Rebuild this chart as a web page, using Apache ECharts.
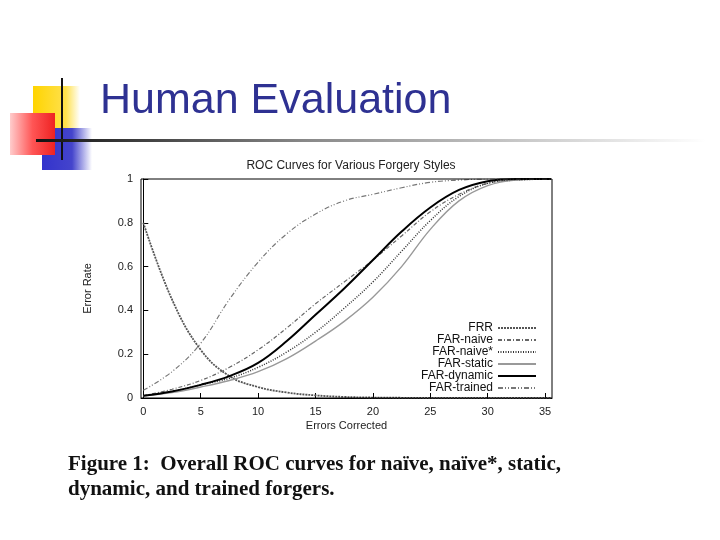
<!DOCTYPE html><html><head><meta charset="utf-8">
<script src="https://cdn.jsdelivr.net/npm/echarts@6/dist/echarts.min.js"></script>
<style>html,body{margin:0;background:#fff}#c{width:720px;height:540px}</style></head><body><div id="c"></div>
<script>
const xs = [0,2.5,5,7.5,10,12.5,15,17.5,20,22.5,25,27.5,30,32.5,35.5];
const frr      = [0.80,0.45,0.22,0.10,0.05,0.025,0.012,0.005,0.002,0.001,0,0,0,0,0];
const naive    = [0.01,0.04,0.08,0.14,0.22,0.32,0.43,0.53,0.63,0.74,0.85,0.93,0.98,0.995,1];
const naiveS   = [0.01,0.03,0.06,0.09,0.14,0.21,0.30,0.41,0.53,0.67,0.81,0.92,0.98,0.995,1];
const stat     = [0.01,0.025,0.05,0.08,0.12,0.18,0.26,0.35,0.46,0.60,0.77,0.90,0.97,0.995,1];
const dynamic  = [0.01,0.03,0.06,0.10,0.16,0.26,0.38,0.50,0.63,0.76,0.87,0.95,0.99,1,1];
const trained  = [0.035,0.12,0.25,0.45,0.62,0.75,0.84,0.90,0.93,0.96,0.985,0.995,1,1,1];
const names = ['FRR','FAR-naive','FAR-naive*','FAR-static','FAR-dynamic','FAR-trained'];
const vals = [frr,naive,naiveS,stat,dynamic,trained];
const styles = [
 {color:'#555',width:1.8,type:[2,1]},
 {color:'#666',width:1.2,type:[4,2,1,2]},
 {color:'#333',width:1.5,type:[1,1.5]},
 {color:'#999',width:1.4,type:'solid'},
 {color:'#000',width:2,type:'solid'},
 {color:'#777',width:1.2,type:[5,2,1,2,1,2]}
];
const chart = echarts.init(document.getElementById('c'));
chart.setOption({
 animation:false,
 title:{text:'ROC Curves for Various Forgery Styles',left:346,top:155,textAlign:'center',textStyle:{fontSize:12,fontWeight:'normal',color:'#222',fontFamily:'Liberation Sans'}},
 grid:{left:141,right:168,top:179,bottom:142},
 legend:{orient:'vertical',right:183,top:322,align:'right',itemWidth:38,itemHeight:10,itemGap:0,padding:0,
   itemStyle:{color:'transparent',borderWidth:0,opacity:0},
   textStyle:{fontSize:12,color:'#111',fontFamily:'Liberation Sans'},
   data:names},
 xAxis:{type:'value',min:-0.2,max:35.6,interval:5,name:'Errors Corrected',nameLocation:'middle',nameGap:22,
   nameTextStyle:{fontSize:11,color:'#222',fontFamily:'Liberation Sans'},
   axisLine:{show:true,onZero:false,lineStyle:{color:'#000'}},axisTick:{inside:true,length:5,customValues:[0,5,10,15,20,25,30,35]},
   axisLabel:{fontSize:11,color:'#222',customValues:[0,5,10,15,20,25,30,35],formatter:v=>Math.round(v)},splitLine:{show:false}},
 yAxis:{type:'value',min:0,max:1,interval:0.2,name:'Error Rate',nameLocation:'middle',nameGap:48,nameRotate:90,
   nameTextStyle:{fontSize:11,color:'#222',fontFamily:'Liberation Sans'},
   axisLine:{show:true,lineStyle:{color:'#000'}},axisTick:{inside:true,length:5},
   axisLabel:{fontSize:11,color:'#222',formatter:v=>v===0?'0':v===1?'1':v},splitLine:{show:false}},
 graphic:[
  {type:'rect',shape:{x:141,y:179,width:411,height:219},style:{fill:'none',stroke:'#000',lineWidth:1},z:10},
  {type:'rect',shape:{x:33,y:86,width:47,height:46},style:{fill:{type:'linear',x:0,y:0,x2:1,y2:0,colorStops:[{offset:0,color:'#ffd400'},{offset:0.7,color:'#ffe14d'},{offset:1,color:'#fff'}]}}},
  {type:'rect',shape:{x:42,y:128,width:50,height:42},style:{fill:{type:'linear',x:0,y:0,x2:1,y2:0,colorStops:[{offset:0,color:'#3333cc'},{offset:0.6,color:'#4444cc'},{offset:1,color:'#fff'}]}}},
  {type:'rect',shape:{x:10,y:113,width:45,height:42},style:{fill:{type:'linear',x:0,y:0,x2:1,y2:0,colorStops:[{offset:0,color:'#ffcccc'},{offset:0.5,color:'#ff5555'},{offset:1,color:'#ee2222'}]}}},
  {type:'rect',shape:{x:61,y:78,width:2,height:82},style:{fill:'#111'}},
  {type:'rect',shape:{x:36,y:139,width:670,height:3},style:{fill:{type:'linear',x:0,y:0,x2:1,y2:0,colorStops:[{offset:0,color:'#111'},{offset:0.4,color:'#888'},{offset:1,color:'#fff'}]}}},
  {type:'text',left:100,top:80,style:{text:'Human Evaluation',fontSize:43,fill:'#2e3192',fontFamily:'Liberation Sans'}},
  {type:'text',left:68,top:452,style:{text:'Figure 1:  Overall ROC curves for naïve, naïve*, static,\ndynamic, and trained forgers.',fontSize:21,fontWeight:'bold',lineHeight:25,fill:'#111',fontFamily:'Liberation Serif'}}
 ],
 series:names.map((n,i)=>({name:n,type:'line',smooth:0.4,symbol:'none',data:xs.map((x,j)=>[x,vals[i][j]]),lineStyle:styles[i],itemStyle:{color:styles[i].color}}))
});
</script></body></html>
